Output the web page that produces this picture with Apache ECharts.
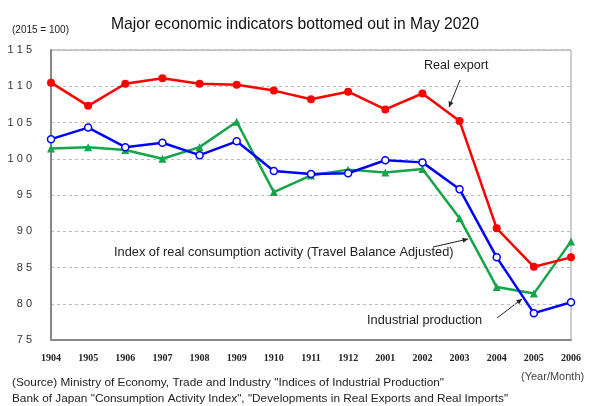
<!DOCTYPE html>
<html>
<head>
<meta charset="utf-8">
<script src="https://cdn.jsdelivr.net/npm/echarts@6/dist/echarts.min.js"></script>
<style>
  html, body { margin: 0; padding: 0; background: #fff; }
  #main { width: 590px; height: 406px; }
</style>
</head>
<body>
<div id="main"></div>
<script>
// year/month labels along the bottom
var months = ['1904', '1905', '1906', '1907', '1908', '1909', '1910', '1911', '1912',
              '2001', '2002', '2003', '2004', '2005', '2006'];
// 2015 = 100
var realExport = [110.5, 107.3, 110.35, 111.1, 110.35, 110.2, 109.4, 108.2, 109.25,
                  106.8, 109.0, 105.2, 90.4, 85.1, 86.4];
var industrialProduction = [102.7, 104.3, 101.6, 102.2, 100.5, 102.4, 98.3, 97.9, 98.0,
                            99.8, 99.5, 95.8, 86.4, 78.7, 80.2];
var consumptionActivity = [101.4, 101.6, 101.2, 100.0, 101.6, 105.1, 95.4, 97.7, 98.5,
                           98.1, 98.6, 91.8, 82.3, 81.4, 88.6];

var chart = echarts.init(document.getElementById('main'));

// little arrow drawn as a line + a head
function arrow(x1, y1, x2, y2) {
    var a = Math.atan2(y2 - y1, x2 - x1), L = 6, w = 0.45;
    return [
        { type: 'line', shape: { x1: x1, y1: y1, x2: x2, y2: y2 }, style: { stroke: '#222', lineWidth: 1 } },
        { type: 'polygon', shape: { points: [
            [x2, y2],
            [x2 - L * Math.cos(a - w), y2 - L * Math.sin(a - w)],
            [x2 - L * Math.cos(a + w), y2 - L * Math.sin(a + w)]
        ] }, style: { fill: '#222' } }
    ];
}

var txt = { fontFamily: 'Liberation Sans, Arial', fill: '#222' };

chart.setOption({
    animation: false,
    title: {
        text: 'Major economic indicators bottomed out in May 2020',
        left: 'center', top: 12,
        textStyle: { fontFamily: 'Liberation Sans, Arial', fontSize: 15.7, fontWeight: 'normal', color: '#111' }
    },
    grid: { left: 51, right: 19, top: 50, bottom: 66, show: true, borderColor: '#999', borderWidth: 1 },
    xAxis: {
        type: 'category',
        data: months,
        boundaryGap: false,
        axisLine: { lineStyle: { color: '#888', width: 2 } },
        axisTick: { show: false },
        axisLabel: { margin: 13, fontFamily: 'Liberation Serif, Times New Roman', fontWeight: 'bold', fontSize: 10, color: '#222' },
        splitLine: { show: false }
    },
    yAxis: {
        type: 'value',
        min: 75, max: 115, interval: 5,
        axisLine: { show: true, lineStyle: { color: '#888', width: 2 } },
        axisTick: { show: false },
        axisLabel: {
            margin: 19, fontFamily: 'Liberation Sans, Arial', fontSize: 11, color: '#333',
            formatter: function (v) { return String(v).split('').join(' '); }
        },
        splitLine: { lineStyle: { color: '#bbb', type: [3, 3], width: 1 } }
    },
    series: [
        {
            name: 'Index of real consumption activity', type: 'line', data: consumptionActivity,
            symbol: 'triangle', symbolSize: 8, showAllSymbol: true,
            lineStyle: { color: '#16a34a', width: 2.5 },
            itemStyle: { color: '#16a34a' }
        },
        {
            name: 'Industrial production', type: 'line', data: industrialProduction,
            symbol: 'circle', symbolSize: 7, showAllSymbol: true,
            lineStyle: { color: '#0000ff', width: 2.5 },
            itemStyle: { color: '#fff', borderColor: '#0000ff', borderWidth: 1.5 }
        },
        {
            name: 'Real export', type: 'line', data: realExport,
            symbol: 'circle', symbolSize: 8, showAllSymbol: true,
            lineStyle: { color: '#ff0000', width: 2.5 },
            itemStyle: { color: '#ff0000' }
        }
    ],
    graphic: [
        { type: 'text', left: 12, top: 25, style: Object.assign({ text: '(2015 = 100)', fontSize: 10 }, txt) },
        { type: 'text', left: 424, top: 59, style: Object.assign({ text: 'Real export', fontSize: 12.6 }, txt) },
        { type: 'text', left: 114, top: 246, style: Object.assign({ text: 'Index of real consumption activity (Travel Balance Adjusted)', fontSize: 12.8 }, txt) },
        { type: 'text', left: 367, top: 314, style: Object.assign({ text: 'Industrial production', fontSize: 12.8 }, txt) },
        { type: 'text', left: 521, top: 371, style: { text: '(Year/Month)', fontSize: 11, fill: '#444', fontFamily: 'Liberation Sans, Arial' } },
        { type: 'text', left: 12, top: 377, style: Object.assign({ text: '(Source) Ministry of Economy, Trade and Industry "Indices of Industrial Production"', fontSize: 11.8 }, txt) },
        { type: 'text', left: 12, top: 393, style: Object.assign({ text: 'Bank of Japan "Consumption Activity Index", "Developments in Real Exports and Real Imports"', fontSize: 11.8 }, txt) }
    ].concat(arrow(460, 80, 449, 107))
     .concat(arrow(433, 247, 468, 239))
     .concat(arrow(497, 318, 522, 299))
});
</script>
</body>
</html>
